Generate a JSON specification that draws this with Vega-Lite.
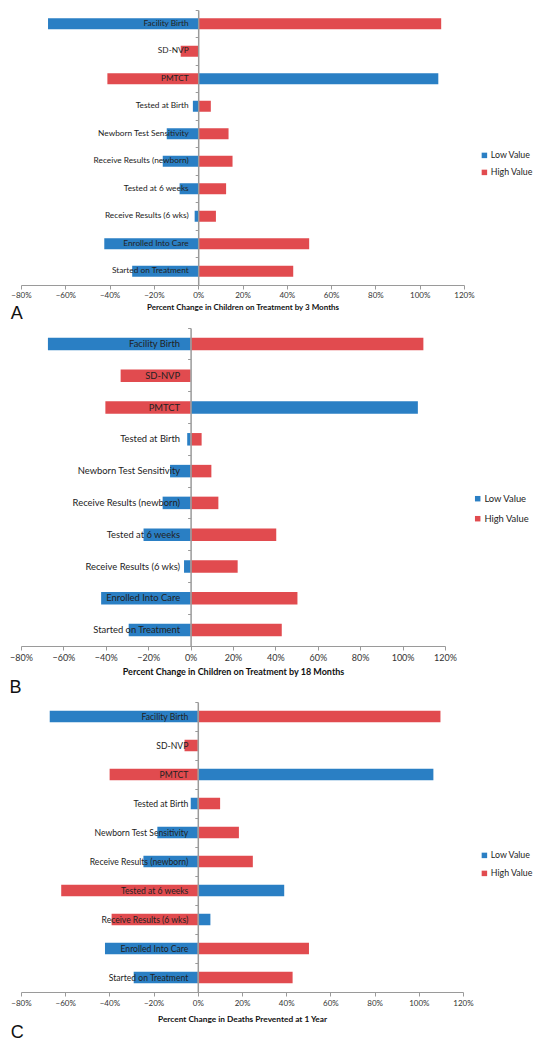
{
  "$schema": "https://vega.github.io/schema/vega-lite/v6.json",
  "padding": {"left": 9, "top": 9, "right": 0, "bottom": 0},
  "spacing": 4,
  "config": {"view": {"stroke": null}, "font": "Lato"},
  "resolve": {"scale": {"color": "independent"}, "legend": {"color": "independent"}},
  "datasets": {
    "A": [
      {"param": "Facility Birth", "type": "Low Value", "value": -0.678},
      {"param": "Facility Birth", "type": "High Value", "value": 1.097},
      {"param": "SD-NVP", "type": "Low Value", "value": 0},
      {"param": "SD-NVP", "type": "High Value", "value": -0.079},
      {"param": "PMTCT", "type": "Low Value", "value": 1.084},
      {"param": "PMTCT", "type": "High Value", "value": -0.41},
      {"param": "Tested at Birth", "type": "Low Value", "value": -0.024},
      {"param": "Tested at Birth", "type": "High Value", "value": 0.057},
      {"param": "Newborn Test Sensitivity", "type": "Low Value", "value": -0.142},
      {"param": "Newborn Test Sensitivity", "type": "High Value", "value": 0.137},
      {"param": "Receive Results (newborn)", "type": "Low Value", "value": -0.16},
      {"param": "Receive Results (newborn)", "type": "High Value", "value": 0.155},
      {"param": "Tested at 6 weeks", "type": "Low Value", "value": -0.084},
      {"param": "Tested at 6 weeks", "type": "High Value", "value": 0.126},
      {"param": "Receive Results (6 wks)", "type": "Low Value", "value": -0.016},
      {"param": "Receive Results (6 wks)", "type": "High Value", "value": 0.08},
      {"param": "Enrolled Into Care", "type": "Low Value", "value": -0.424},
      {"param": "Enrolled Into Care", "type": "High Value", "value": 0.501},
      {"param": "Started on Treatment", "type": "Low Value", "value": -0.298},
      {"param": "Started on Treatment", "type": "High Value", "value": 0.429}
    ],
    "B": [
      {"param": "Facility Birth", "type": "Low Value", "value": -0.673},
      {"param": "Facility Birth", "type": "High Value", "value": 1.098},
      {"param": "SD-NVP", "type": "Low Value", "value": 0},
      {"param": "SD-NVP", "type": "High Value", "value": -0.33},
      {"param": "PMTCT", "type": "Low Value", "value": 1.072},
      {"param": "PMTCT", "type": "High Value", "value": -0.402},
      {"param": "Tested at Birth", "type": "Low Value", "value": -0.016},
      {"param": "Tested at Birth", "type": "High Value", "value": 0.052},
      {"param": "Newborn Test Sensitivity", "type": "Low Value", "value": -0.097},
      {"param": "Newborn Test Sensitivity", "type": "High Value", "value": 0.098},
      {"param": "Receive Results (newborn)", "type": "Low Value", "value": -0.132},
      {"param": "Receive Results (newborn)", "type": "High Value", "value": 0.131},
      {"param": "Tested at 6 weeks", "type": "Low Value", "value": -0.222},
      {"param": "Tested at 6 weeks", "type": "High Value", "value": 0.404},
      {"param": "Receive Results (6 wks)", "type": "Low Value", "value": -0.031},
      {"param": "Receive Results (6 wks)", "type": "High Value", "value": 0.222},
      {"param": "Enrolled Into Care", "type": "Low Value", "value": -0.422},
      {"param": "Enrolled Into Care", "type": "High Value", "value": 0.504},
      {"param": "Started on Treatment", "type": "Low Value", "value": -0.292},
      {"param": "Started on Treatment", "type": "High Value", "value": 0.43}
    ],
    "C": [
      {"param": "Facility Birth", "type": "Low Value", "value": -0.67},
      {"param": "Facility Birth", "type": "High Value", "value": 1.098},
      {"param": "SD-NVP", "type": "Low Value", "value": 0},
      {"param": "SD-NVP", "type": "High Value", "value": -0.06},
      {"param": "PMTCT", "type": "Low Value", "value": 1.066},
      {"param": "PMTCT", "type": "High Value", "value": -0.399},
      {"param": "Tested at Birth", "type": "Low Value", "value": -0.032},
      {"param": "Tested at Birth", "type": "High Value", "value": 0.101},
      {"param": "Newborn Test Sensitivity", "type": "Low Value", "value": -0.183},
      {"param": "Newborn Test Sensitivity", "type": "High Value", "value": 0.186},
      {"param": "Receive Results (newborn)", "type": "Low Value", "value": -0.246},
      {"param": "Receive Results (newborn)", "type": "High Value", "value": 0.249},
      {"param": "Tested at 6 weeks", "type": "Low Value", "value": 0.391},
      {"param": "Tested at 6 weeks", "type": "High Value", "value": -0.618},
      {"param": "Receive Results (6 wks)", "type": "Low Value", "value": 0.057},
      {"param": "Receive Results (6 wks)", "type": "High Value", "value": -0.39},
      {"param": "Enrolled Into Care", "type": "Low Value", "value": -0.42},
      {"param": "Enrolled Into Care", "type": "High Value", "value": 0.503},
      {"param": "Started on Treatment", "type": "Low Value", "value": -0.29},
      {"param": "Started on Treatment", "type": "High Value", "value": 0.429}
    ]
  },
  "vconcat": [
    {
      "width": 443,
      "height": 275,
      "data": {"name": "A"},
      "title": {"text": "A", "orient": "bottom", "anchor": "start", "frame": "bounds", "font": "Liberation Sans", "fontSize": 18, "fontWeight": "normal", "color": "#111", "offset": -6},
      "mark": {"type": "bar", "size": 11},
      "encoding": {
        "y": {
          "field": "param", "type": "nominal",
          "sort": ["Facility Birth", "SD-NVP", "PMTCT", "Tested at Birth", "Newborn Test Sensitivity", "Receive Results (newborn)", "Tested at 6 weeks", "Receive Results (6 wks)", "Enrolled Into Care", "Started on Treatment"],
          "scale": {"paddingInner": 0, "paddingOuter": 0},
          "axis": {"title": null, "offset": -177.2, "bandPosition": 0, "zindex": 1, "domainColor": "#9a9a9a", "domainWidth": 1.5, "tickColor": "#9a9a9a", "tickSize": 3, "labelPadding": 7, "labelFont": "Lato", "labelFontSize": 8.3, "labelColor": "#222", "labelLimit": 0}
        },
        "x": {
          "field": "value", "type": "quantitative", "stack": null,
          "scale": {"domain": [-0.8, 1.2], "nice": false, "zero": false},
          "axis": {"title": "Percent Change in Children on Treatment by 3 Months", "format": ".0%", "values": [-0.8, -0.6, -0.4, -0.2, 0, 0.2, 0.4, 0.6, 0.8, 1.0, 1.2], "grid": false, "labelFlush": false, "labelOverlap": false, "domainColor": "#9a9a9a", "tickColor": "#9a9a9a", "tickSize": 4, "labelPadding": 2, "labelFont": "Lato", "labelFontSize": 8, "labelColor": "#333", "titleFont": "Lato", "titleFontSize": 8, "titleFontWeight": "bold", "titleColor": "#111", "titlePadding": 4}
        },
        "color": {
          "field": "type", "type": "nominal",
          "scale": {"domain": ["Low Value", "High Value"], "range": ["#2a7fc4", "#e14b4f"]},
          "legend": {"title": null, "orient": "none", "legendX": 459, "legendY": 141, "symbolType": "square", "symbolSize": 30, "symbolStrokeWidth": 0, "labelFont": "Lato", "labelFontSize": 8.8, "labelColor": "#222", "rowPadding": 7, "labelOffset": 2}
        }
      }
    },
    {
      "width": 424,
      "height": 318,
      "data": {"name": "B"},
      "title": {"text": "B", "orient": "bottom", "anchor": "start", "frame": "bounds", "font": "Liberation Sans", "fontSize": 18, "fontWeight": "normal", "color": "#111", "offset": 3},
      "mark": {"type": "bar", "size": 12.5},
      "encoding": {
        "y": {
          "field": "param", "type": "nominal",
          "sort": ["Facility Birth", "SD-NVP", "PMTCT", "Tested at Birth", "Newborn Test Sensitivity", "Receive Results (newborn)", "Tested at 6 weeks", "Receive Results (6 wks)", "Enrolled Into Care", "Started on Treatment"],
          "scale": {"paddingInner": 0, "paddingOuter": 0},
          "axis": {"title": null, "offset": -169.6, "bandPosition": 0, "zindex": 1, "domainColor": "#9a9a9a", "domainWidth": 1.5, "tickColor": "#9a9a9a", "tickSize": 3, "labelPadding": 8, "labelFont": "Lato", "labelFontSize": 9.4, "labelColor": "#222", "labelLimit": 0}
        },
        "x": {
          "field": "value", "type": "quantitative", "stack": null,
          "scale": {"domain": [-0.8, 1.2], "nice": false, "zero": false},
          "axis": {"title": "Percent Change in Children on Treatment by 18 Months", "format": ".0%", "values": [-0.8, -0.6, -0.4, -0.2, 0, 0.2, 0.4, 0.6, 0.8, 1.0, 1.2], "grid": false, "labelFlush": false, "labelOverlap": false, "domainColor": "#9a9a9a", "tickColor": "#9a9a9a", "tickSize": 4, "labelPadding": 3, "labelFont": "Lato", "labelFontSize": 9, "labelColor": "#333", "titleFont": "Lato", "titleFontSize": 9, "titleFontWeight": "bold", "titleColor": "#111", "titlePadding": 5}
        },
        "color": {
          "field": "type", "type": "nominal",
          "scale": {"domain": ["Low Value", "High Value"], "range": ["#2a7fc4", "#e14b4f"]},
          "legend": {"title": null, "orient": "none", "legendX": 452, "legendY": 166, "symbolType": "square", "symbolSize": 30, "symbolStrokeWidth": 0, "labelFont": "Lato", "labelFontSize": 9.4, "labelColor": "#222", "rowPadding": 9, "labelOffset": 2}
        }
      }
    },
    {
      "width": 442,
      "height": 290,
      "data": {"name": "C"},
      "title": {"text": "C", "orient": "bottom", "anchor": "start", "frame": "bounds", "font": "Liberation Sans", "fontSize": 18, "fontWeight": "normal", "color": "#111", "offset": 2},
      "mark": {"type": "bar", "size": 11.5},
      "encoding": {
        "y": {
          "field": "param", "type": "nominal",
          "sort": ["Facility Birth", "SD-NVP", "PMTCT", "Tested at Birth", "Newborn Test Sensitivity", "Receive Results (newborn)", "Tested at 6 weeks", "Receive Results (6 wks)", "Enrolled Into Care", "Started on Treatment"],
          "scale": {"paddingInner": 0, "paddingOuter": 0},
          "axis": {"title": null, "offset": -176.8, "bandPosition": 0, "zindex": 1, "domainColor": "#9a9a9a", "domainWidth": 1.5, "tickColor": "#9a9a9a", "tickSize": 3, "labelPadding": 7, "labelFont": "Lato", "labelFontSize": 8.6, "labelColor": "#222", "labelLimit": 0}
        },
        "x": {
          "field": "value", "type": "quantitative", "stack": null,
          "scale": {"domain": [-0.8, 1.2], "nice": false, "zero": false},
          "axis": {"title": "Percent Change in Deaths Prevented at 1 Year", "format": ".0%", "values": [-0.8, -0.6, -0.4, -0.2, 0, 0.2, 0.4, 0.6, 0.8, 1.0, 1.2], "grid": false, "labelFlush": false, "labelOverlap": false, "domainColor": "#9a9a9a", "tickColor": "#9a9a9a", "tickSize": 4, "labelPadding": 3, "labelFont": "Lato", "labelFontSize": 8, "labelColor": "#333", "titleFont": "Lato", "titleFontSize": 8.3, "titleFontWeight": "bold", "titleColor": "#111", "titlePadding": 7}
        },
        "color": {
          "field": "type", "type": "nominal",
          "scale": {"domain": ["Low Value", "High Value"], "range": ["#2a7fc4", "#e14b4f"]},
          "legend": {"title": null, "orient": "none", "legendX": 459, "legendY": 149, "symbolType": "square", "symbolSize": 30, "symbolStrokeWidth": 0, "labelFont": "Lato", "labelFontSize": 8.8, "labelColor": "#222", "rowPadding": 8, "labelOffset": 2}
        }
      }
    }
  ]
}
